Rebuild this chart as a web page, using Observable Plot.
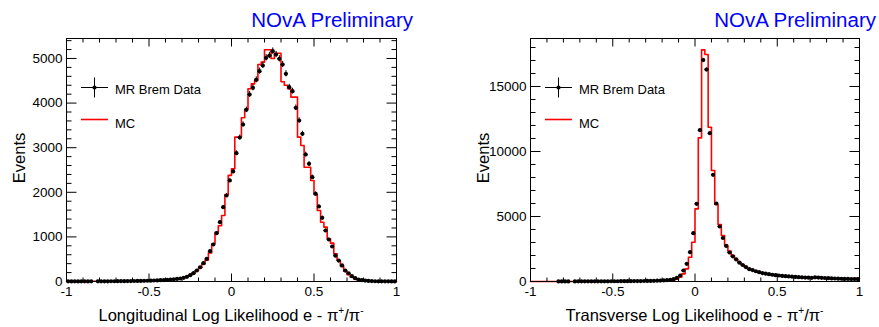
<!DOCTYPE html>
<html><head><meta charset="utf-8">
<script src="https://cdn.jsdelivr.net/npm/d3@7"></script>
<script src="https://cdn.jsdelivr.net/npm/@observablehq/plot@0.6"></script>
<style>
body{margin:0;background:#fff;}
#wrap{display:flex;width:879px;height:327px;overflow:hidden;}
svg{font-family:"Liberation Sans",Arial,sans-serif;}
</style></head><body><div id="wrap"></div>
<script>
// Histogram binning: 100 bins from -1 to 1
const N_BINS = 100, X_MIN = -1, X_MAX = 1;

// Left panel: Longitudinal Log Likelihood
const longData = [3,2,3,2,3,3,2,3,0,4, 4,5,5,6,6,7,8,8,9,10, 11,12,13,15,17,19,22,25,29,33, 38,44,50,57,67,83,105,141,186,247, 320,410,508,679,830,1083,1330,1666,1928,2264, 2466,2877,3228,3520,3850,4192,4342,4522,4716,4843, 5015,5067,5164,5089,4993,4865,4656,4356,4267,3894, 3610,3311,2847,2639,2338,1966,1681,1428,1143,942, 785,580,470,360,245,185,120,75,45,30, 20,13,9,6,5,4,3,3,2,2];
const longMC = [2,2,2,2,3,3,3,3,4,4, 4,5,5,6,6,7,8,9,10,11, 12,13,14,16,18,20,23,26,30,34, 39,45,52,60,70,88,112,145,190,245, 310,390,480,640,845,1105,1250,1480,1950,2380, 2526,3236,3236,3670,3860,4320,4430,4506,4865,4918, 5195,5195,5000,5118,5118,4480,4400,4320,4133,4133, 3236,3050,2563,2563,2264,1950,1592,1330,1218,960, 860,620,470,340,230,150,95,58,35,20, 12,8,5,4,3,3,2,2,2,2];

// Right panel: Transverse Log Likelihood
const transData = [0,0,0,0,0,0,0,0,6,7, 7,8,0,9,10,10,11,12,12,13, 14,15,16,17,18,19,20,22,23,25, 27,29,31,34,37,41,46,52,60,70, 85,105,135,180,282,461,846,1360,2256,3717, 5977,11640,17030,16300,11410,8205,6000,4230,3345,2740, 2230,1935,1700,1450,1270,1100,950,880,790,715, 645,600,560,520,490,460,430,410,390,370, 350,335,320,305,295,285,320,300,285,270, 255,240,230,220,210,200,195,190,185,180];
const transMC = [0,0,0,0,0,0,0,0,2,2, 3,3,3,4,4,5,5,6,6,7, 8,9,10,11,12,13,14,15,17,19, 21,23,25,28,31,35,39,44,50,58, 65,78,95,130,200,333,590,975,1870,3020, 5590,11050,17820,17460,11870,8540,5923,4385,3540,2770, 2333,2000,1720,1480,1280,1120,970,870,780,700, 630,575,530,490,455,425,400,375,355,335, 320,305,290,280,270,260,270,260,250,240, 230,220,210,200,195,190,200,210,230,250];

const xMajorTicks = [-1, -0.5, 0, 0.5, 1];
const longYTicks = [0, 1000, 2000, 3000, 4000, 5000];
const transYTicks = [0, 5000, 10000, 15000];

const legendLabels = ["MR Brem Data", "MC"];
const headline = "NOvA Preliminary";

function drawPanel(cfg) {
  const {width, marginLeft, marginRight, yMax, data, mc, yMajor, yMajorStep, yMinorStep, xTitle} = cfg;
  const bw = (X_MAX - X_MIN) / N_BINS;
  const pts = data.map((v, i) => ({x: X_MIN + (i + 0.5) * bw, v})).filter(d => d.v > 0);
  const steps = mc.map((v, i) => ({x: X_MIN + i * bw, v}));
  steps.push({x: X_MAX, v: mc[mc.length - 1]});

  const plot = Plot.plot({
    width, height: 327, marginTop: 38, marginBottom: 46, marginLeft, marginRight,
    style: {fontFamily: "'Liberation Sans', Arial, sans-serif", fontSize: "13.5px", background: "white", overflow: "visible"},
    x: {domain: [X_MIN, X_MAX]},
    y: {domain: [0, yMax]},
    marks: [
      Plot.line(steps, {x: "x", y: "v", curve: "step-after", stroke: "#ff0000", strokeWidth: 1.6}),
      Plot.ruleX(pts, {x: "x", y1: d => d.v - Math.sqrt(d.v), y2: d => d.v + Math.sqrt(d.v), stroke: "black", strokeWidth: 1}),
      Plot.ruleY(pts, {y: "v", x1: d => d.x - bw / 2, x2: d => d.x + bw / 2, stroke: "black", strokeWidth: 1}),
      Plot.dot(pts, {x: "x", y: "v", r: 2.1, fill: "black", stroke: "none"}),
      Plot.frame({stroke: "black", strokeWidth: 1}),
      Plot.axisX({ticks: xMajorTicks, tickSize: 0, tickPadding: 5, tickFormat: d => String(d), label: null}),
      Plot.axisY({ticks: yMajor, tickSize: 0, tickPadding: 4, tickFormat: d3.format("d"), label: null})
    ]
  });

  const sx = plot.scale("x"), sy = plot.scale("y");
  const [fx0, fx1] = sx.range;
  const [fyB, fyT] = sy.range;
  const svg = d3.select(plot);
  const g = svg.append("g").attr("stroke", "black").attr("stroke-width", 1).attr("transform", "translate(0.5,0.5)");

  // x ticks every 0.1 (major every 0.5), bottom and top, inward
  for (let i = -10; i <= 10; i++) {
    const t = i / 10, X = sx.apply(t), len = (i % 5 === 0) ? 8 : 4;
    g.append("line").attr("x1", X).attr("x2", X).attr("y1", fyB).attr("y2", fyB - len);
    g.append("line").attr("x1", X).attr("x2", X).attr("y1", fyT).attr("y2", fyT + len);
  }
  // y ticks
  for (let t = 0; t <= yMax; t += yMinorStep) {
    const Y = sy.apply(t), len = (t % yMajorStep === 0) ? 10 : 5;
    g.append("line").attr("x1", fx0).attr("x2", fx0 + len).attr("y1", Y).attr("y2", Y);
    g.append("line").attr("x1", fx1).attr("x2", fx1 - len).attr("y1", Y).attr("y2", Y);
  }

  // headline
  svg.append("text").attr("x", fx1 + 17).attr("y", 26.7).attr("text-anchor", "end")
    .attr("font-size", 20.5).attr("fill", "#0000ff").text(headline);

  // axis titles
  const xt = svg.append("text").attr("x", (fx0 + fx1) / 2).attr("y", 320.5).attr("text-anchor", "middle")
    .attr("font-size", 16.5).attr("fill", "black");
  xt.append("tspan").text(xTitle + " \u03c0");
  xt.append("tspan").attr("font-size", 10).attr("dy", -7).text("+");
  xt.append("tspan").attr("dy", 7).text("/\u03c0");
  xt.append("tspan").attr("font-size", 10).attr("dy", -7).text("-");

  svg.append("text").attr("transform", `translate(${fx0 - 41},${(fyB + fyT) / 2 - 1.5}) rotate(-90)`)
    .attr("text-anchor", "middle").attr("font-size", 16.5).attr("fill", "black").text("Events");

  // legend
  const lx = fx0 + 15, ly1 = 87.5, ly2 = 119.5;
  const lg = svg.append("g");
  lg.append("line").attr("x1", lx).attr("x2", lx + 27).attr("y1", ly1).attr("y2", ly1).attr("stroke", "black");
  lg.append("line").attr("x1", lx + 13.5).attr("x2", lx + 13.5).attr("y1", ly1 - 10).attr("y2", ly1 + 10).attr("stroke", "black");
  lg.append("circle").attr("cx", lx + 13.5).attr("cy", ly1).attr("r", 2.1).attr("fill", "black");
  lg.append("text").attr("x", lx + 34).attr("y", 94.3).attr("text-anchor", "start").attr("font-size", 13).attr("fill", "black").text(legendLabels[0]);
  lg.append("line").attr("x1", lx).attr("x2", lx + 27).attr("y1", ly2).attr("y2", ly2).attr("stroke", "#ff0000").attr("stroke-width", 1.6);
  lg.append("text").attr("x", lx + 34).attr("y", 128).attr("text-anchor", "start").attr("font-size", 13).attr("fill", "black").text(legendLabels[1]);

  document.getElementById("wrap").appendChild(plot);
}

drawPanel({width: 440, marginLeft: 66, marginRight: 44, yMax: 5448, data: longData, mc: longMC,
  yMajor: longYTicks, yMajorStep: 1000, yMinorStep: 200, xTitle: "Longitudinal Log Likelihood e -"});
drawPanel({width: 439, marginLeft: 90, marginRight: 20, yMax: 18692, data: transData, mc: transMC,
  yMajor: transYTicks, yMajorStep: 5000, yMinorStep: 1000, xTitle: "Transverse Log Likelihood e -"});
</script></body></html>
